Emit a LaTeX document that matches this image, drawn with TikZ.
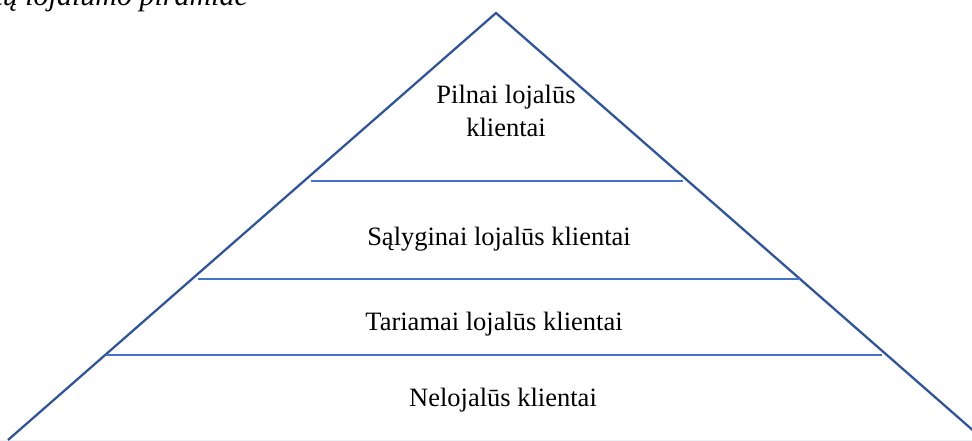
\documentclass[tikz,border=0pt]{standalone}
\usepackage{fontspec}
\setmainfont{Liberation Serif}
\definecolor{pyr}{HTML}{2F5597}
\definecolor{band}{HTML}{4472C4}
\definecolor{faint}{HTML}{EEF0F4}
\begin{document}
\begin{tikzpicture}[x=1pt,y=-1pt,
  pyrline/.style={draw=pyr,line width=2.3pt,line join=miter},
  bandline/.style={draw=band,line width=1.1pt},
  lbl/.style={font=\fontsize{26.5}{33}\selectfont,align=center,inner sep=0pt,anchor=base}]
\useasboundingbox (0,0) rectangle (972,441);
\clip (0,0) rectangle (972,441);
% caption (cut off at the top)
\node[font=\fontsize{30}{36}\selectfont\itshape,anchor=base east,inner sep=0pt] (cap) at (248,6) {Klientų lojalumo piramidė};
% faint base
\draw[faint,line width=1pt] (0,440) -- (972,440);
% pyramid
\coordinate (apex) at (496,13);
\coordinate (bl) at (8,440);
\coordinate (br) at (984,440);
\draw[pyrline] (bl) -- (apex) -- (br);
% bands
\coordinate (a1) at (311,181); \coordinate (b1) at (683,181);
\coordinate (a2) at (198,279); \coordinate (b2) at (800,279);
\coordinate (a3) at (106,355); \coordinate (b3) at (882,355);
\draw[bandline] (a1) -- (b1);
\draw[bandline] (a2) -- (b2);
\draw[bandline] (a3) -- (b3);
% labels
\node[lbl] (t1) at (506,137) {Pilnai lojalūs\\klientai};
\node[lbl] (t2) at (499,245) {Sąlyginai lojalūs klientai};
\node[lbl] (t3) at (494,330) {Tariamai lojalūs klientai};
\node[lbl] (t4) at (503,406) {Nelojalūs klientai};
\end{tikzpicture}
\end{document}
